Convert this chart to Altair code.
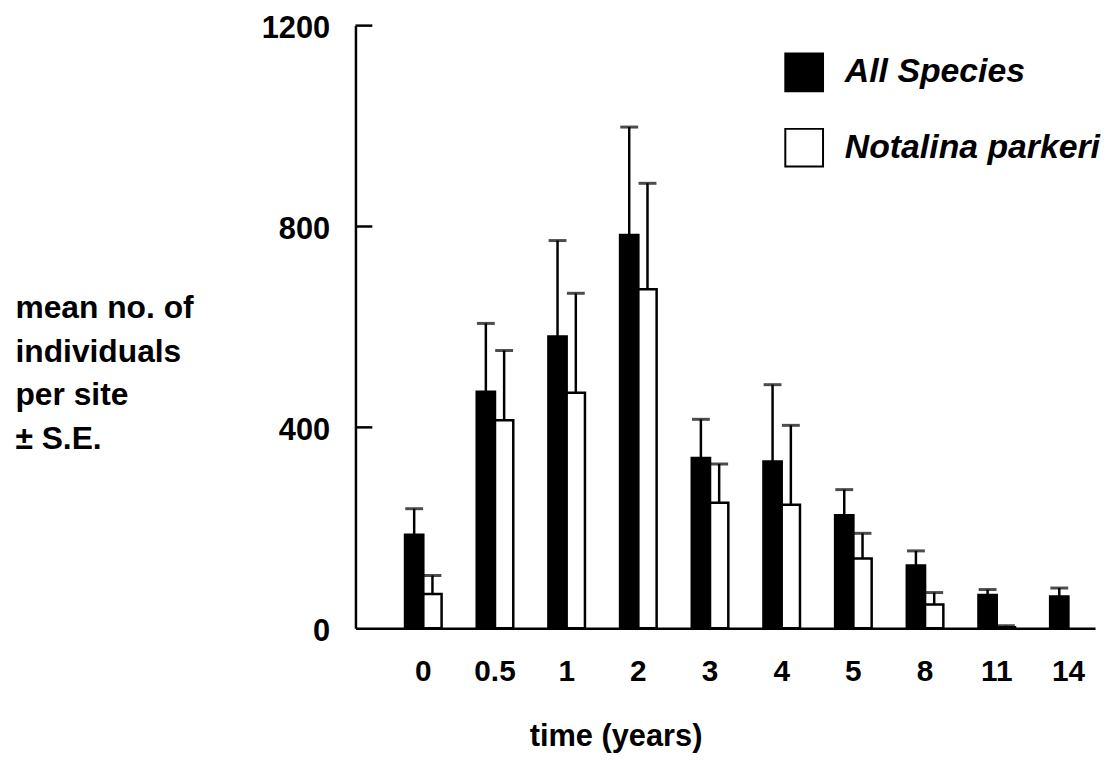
import altair as alt
import pandas as pd

# ---- data ----
times = ["0", "0.5", "1", "2", "3", "4", "5", "8", "11", "14"]
series_names = ["All Species", "Notalina parkeri"]

all_mean = [186, 471, 581, 783, 339, 332, 225, 125, 66, 63]
all_se = [52, 136, 191, 215, 77, 153, 51, 29, 11, 17]

np_mean = [68, 414, 469, 675, 250, 246, 139, 47, 2]
np_se = [37, 139, 198, 211, 77, 158, 50, 24, 3]

y_ticks = [0, 400, 800, 1200]

rows = []
for t, m, s in zip(times, all_mean, all_se):
    rows.append({"time": t, "series": series_names[0], "mean": m, "upper": m + s})
for t, m, s in zip(times, np_mean, np_se):
    rows.append({"time": t, "series": series_names[1], "mean": m, "upper": m + s})
df = pd.DataFrame(rows)
ticks_df = pd.DataFrame({"tick": y_ticks[1:]})

FONT = "Liberation Sans, Arial, Helvetica, sans-serif"
W, H = 745, 607

xscale = alt.Scale(paddingInner=0.49, paddingOuter=0.404, align=0.856)
yscale = alt.Scale(domain=[0, 1200], nice=False, zero=True)

xaxis = alt.Axis(
    title="time (years)", labelAngle=0, ticks=False, tickSize=0,
    domainColor="black", domainWidth=2.5, labelColor="black",
    labelFont=FONT, labelFontSize=30, labelFontWeight="bold", labelPadding=29,
    titleFont=FONT, titleFontSize=31, titleFontWeight="bold", titleColor="black",
    titleX=262, titleY=118, titleAlign="center", titleBaseline="alphabetic",
    titleAngle=0,
)
yaxis = alt.Axis(
    title=["mean no. of", "individuals", "per site", "\u00b1 S.E."],
    values=y_ticks, format="d", ticks=False, tickSize=0, grid=False,
    domainColor="black", domainWidth=2.5, labelColor="black",
    labelFont=FONT, labelFontSize=31, labelFontWeight="bold", labelPadding=26,
    labelOffset=3,
    titleFont=FONT, titleFontSize=32, titleFontWeight="bold", titleColor="black",
    titleAngle=0, titleX=-343, titleY=294, titleAlign="left",
    titleBaseline="alphabetic", titleLineHeight=44,
)

X = alt.X("time:N", sort=times, scale=xscale, axis=xaxis)
XO = alt.XOffset("series:N", sort=series_names, scale=alt.Scale(paddingInner=0))

base = alt.Chart(df)

bars = base.mark_bar(stroke="black", strokeWidth=2.5).encode(
    x=X,
    xOffset=XO,
    y=alt.Y("mean:Q", scale=yscale, axis=yaxis),
    fill=alt.Fill(
        "series:N",
        scale=alt.Scale(domain=series_names, range=["black", "white"]),
        legend=alt.Legend(
            orient="none", legendX=432, legendY=27, title=None,
            symbolType="square", symbolSize=1444,
            symbolStrokeColor="black", symbolStrokeWidth=2,
            labelFont=FONT, labelFontSize=34, labelFontStyle="italic",
            labelFontWeight="bold", labelColor="black",
            labelOffset=21, rowPadding=30, padding=0, labelLimit=400,
            direction="vertical",
        ),
    ),
)

stems = base.mark_rule(color="black", strokeWidth=2.5).encode(
    x=X, xOffset=XO,
    y=alt.Y("mean:Q", scale=yscale, axis=yaxis),
    y2="upper:Q",
)

caps = base.mark_tick(color="black", thickness=3, size=18, orient="horizontal").encode(
    x=X, xOffset=XO,
    y=alt.Y("upper:Q", scale=yscale, axis=yaxis),
)

inward = alt.Chart(ticks_df).mark_rule(color="black", strokeWidth=2.5).encode(
    y=alt.Y("tick:Q", scale=yscale, axis=yaxis),
    x=alt.value(0), x2=alt.value(17),
)

chart = alt.layer(bars, stems, caps, inward).properties(
    width=W, height=H,
    autosize=alt.AutoSizeParams(type="none"),
    padding={"left": 350, "top": 15, "right": 6, "bottom": 131},
    background="white",
).configure_view(stroke=None)

chart.save("out.html", embed_options={"renderer": "svg", "actions": False})
